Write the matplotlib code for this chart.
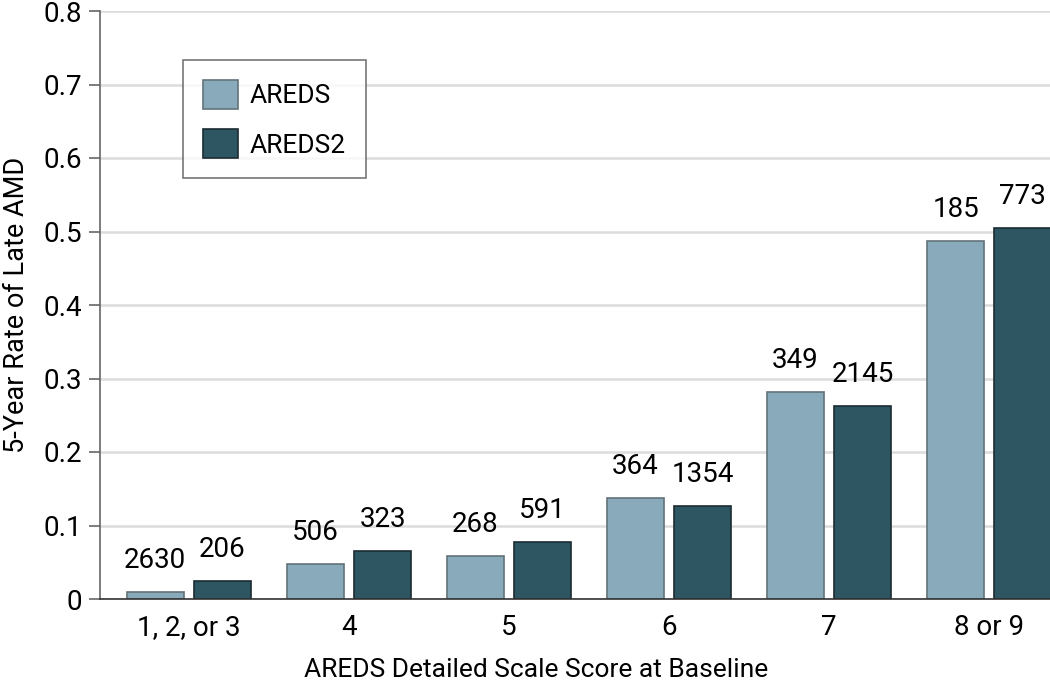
import numpy as np
import matplotlib
matplotlib.use("Agg")
import matplotlib.pyplot as plt

categories = ["1, 2, or 3", "4", "5", "6", "7", "8 or 9"]
areds = [0.009, 0.047, 0.059, 0.137, 0.281, 0.487]
areds2 = [0.025, 0.065, 0.078, 0.127, 0.262, 0.505]
areds_n = ["2630", "506", "268", "364", "349", "185"]
areds2_n = ["206", "323", "591", "1354", "2145", "773"]

plt.rcParams["font.family"] = ["Roboto", "DejaVu Sans"]
fs = 20

fig = plt.figure(figsize=(10.5, 6.86), dpi=100)
ax = fig.add_axes([100 / 1050, 87 / 686, 950 / 1050, 588 / 686])

x = np.arange(len(categories))
w = 0.356
off = 0.21
c1 = "#88aabb"
c2 = "#2e5562"
ax.bar(x - off, areds, w, color=c1, edgecolor="#62737a", linewidth=1.2, label="AREDS", zorder=3)
ax.bar(x + off, areds2, w, color=c2, edgecolor="#1b2c32", linewidth=1.2, label="AREDS2", zorder=3)

# sample sizes above bars
for xi, v, t in zip(x - off, areds, areds_n):
    ax.annotate(t, (xi, v), xytext=(0, 13), textcoords="offset points",
                ha="center", va="bottom", fontsize=fs)
for xi, v, t in zip(x + off, areds2, areds2_n):
    ax.annotate(t, (xi, v), xytext=(0, 13), textcoords="offset points",
                ha="center", va="bottom", fontsize=fs)

ax.set_xlim(-0.556, 5.38)
ax.set_ylim(0, 0.8)
ax.set_yticks(np.arange(0, 0.81, 0.1))
ax.set_yticklabels(["0", "0.1", "0.2", "0.3", "0.4", "0.5", "0.6", "0.7", "0.8"])
ax.set_xticks(x)
ax.set_xticklabels(categories)
ax.tick_params(axis="x", length=0, labelsize=fs, pad=11)
ax.tick_params(axis="y", length=8, width=1.2, color="#666666", labelsize=fs, pad=5)
ax.yaxis.grid(True, color="#dcdcdc", linewidth=1.8, zorder=0)
ax.set_axisbelow(True)
for s in ["top", "right"]:
    ax.spines[s].set_visible(False)
ax.spines["left"].set_color("#666666")
ax.spines["left"].set_linewidth(1.2)
ax.spines["bottom"].set_color("#333333")
ax.spines["bottom"].set_linewidth(1.2)
ax.spines["bottom"].set_zorder(4)

ax.set_xlabel("AREDS Detailed Scale Score at Baseline", fontsize=19)
ax.set_ylabel("5-Year Rate of Late AMD", fontsize=19.5)
ax.xaxis.set_label_coords(0.459, -0.1)
ax.yaxis.set_label_coords(-0.074, 0.5)

leg = ax.legend(loc="upper left", bbox_to_anchor=(83 / 950, 1 - 49 / 588), fontsize=19,
                frameon=True, fancybox=False, edgecolor="#555555", borderpad=0.75,
                labelspacing=0.75, handlelength=1.34, handleheight=1.34, handletextpad=0.45,
                borderaxespad=0)
leg.get_frame().set_linewidth(1.2)

fig.savefig("out.png", dpi=100)
